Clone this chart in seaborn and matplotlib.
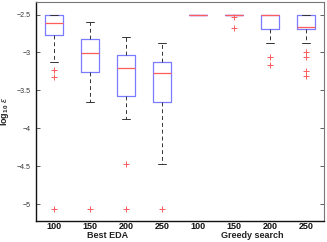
import numpy as np
import seaborn as sns
import matplotlib
matplotlib.use("Agg")
import matplotlib.pyplot as plt

groups = ["Best EDA", "Greedy search"]
pop_sizes = ["100", "150", "200", "250", "100", "150", "200", "250"]

# five-number summaries (log10 eps)
whislo = [-3.125, -3.66, -3.88, -4.47, -2.50, -2.50, -2.88, -2.88]
q1 = [-2.77, -3.26, -3.58, -3.66, -2.50, -2.50, -2.69, -2.69]
med = [-2.617, -3.01, -3.20, -3.27, -2.50, -2.50, -2.50, -2.66]
q3 = [-2.50, -2.82, -3.04, -3.125, -2.50, -2.50, -2.50, -2.50]
whishi = [-2.50, -2.60, -2.79, -2.88, -2.50, -2.50, -2.50, -2.50]
fliers = [
    [-3.23, -3.32, -5.07],
    [-5.07],
    [-4.47, -5.07],
    [-5.07],
    [],
    [-2.53, -2.68],
    [-3.06, -3.17],
    [-2.99, -3.06, -3.25, -3.31],
]

sns.set_style("white")
plt.rcParams["font.family"] = ["Liberation Sans", "DejaVu Sans"]
plt.rcParams["mathtext.fontset"] = "custom"
plt.rcParams["mathtext.rm"] = "Liberation Sans"
plt.rcParams["mathtext.it"] = "Liberation Sans:italic"
plt.rcParams["mathtext.bf"] = "Liberation Sans:bold"

fig = plt.figure(figsize=(3.27, 2.42), dpi=100)
ax = fig.add_axes([0.110, 0.088, 0.881, 0.902])

stats = []
for i in range(len(pop_sizes)):
    stats.append(dict(whislo=whislo[i], q1=q1[i], med=med[i], q3=q3[i],
                      whishi=whishi[i], fliers=fliers[i]))

blue = "#7b7bff"
red = "#ff5c5c"
ax.bxp(stats, positions=np.arange(1, 9), widths=0.5, showfliers=True,
       boxprops=dict(color=blue, linewidth=0.9),
       medianprops=dict(color=red, linewidth=0.9),
       whiskerprops=dict(color="#333333", linestyle=(0, (4, 3)), linewidth=0.7),
       capprops=dict(color="#333333", linewidth=0.7),
       flierprops=dict(marker="+", markeredgecolor=red, markersize=4,
                       markeredgewidth=0.7, linestyle="none"),
       capwidths=0.23)

ax.set_xlim(0.5, 8.5)
ax.set_ylim(-5.22, -2.34)
ax.set_yticks([-5, -4.5, -4, -3.5, -3, -2.5])
ax.set_yticklabels(["\u22125", "\u22124.5", "\u22124", "\u22123.5", "\u22123", "\u22122.5"])
ax.set_xticks(np.arange(1, 9))
ax.set_xticklabels(pop_sizes)
ax.tick_params(axis="y", direction="in", length=3, width=0.6, labelsize=5,
               right=True, left=True, pad=4, color="#444444")
ax.tick_params(axis="x", length=0, labelsize=6.5, pad=1)
for t in ax.get_xticklabels():
    t.set_color("#111111")
    t.set_fontweight("semibold")
for t in ax.get_yticklabels():
    t.set_color("#333333")

for s in ["left", "bottom"]:
    ax.spines[s].set_color("#111111")
    ax.spines[s].set_linewidth(1.0)
for s in ["top", "right"]:
    ax.spines[s].set_color("#777777")
    ax.spines[s].set_linewidth(0.8)

ax.text(2.5, -5.41, groups[0], ha="center", va="center", fontsize=6.5,
        fontweight="bold", color="#222222")
ax.text(6.5, -5.41, groups[1], ha="center", va="center", fontsize=6.5,
        fontweight="bold", color="#222222")
ax.set_ylabel(r"$\mathbf{log_{10}}\ \epsilon$", fontsize=6.5, color="#222222")
ax.yaxis.set_label_coords(-0.085, 0.5)

fig.savefig("out.png", dpi=100)
